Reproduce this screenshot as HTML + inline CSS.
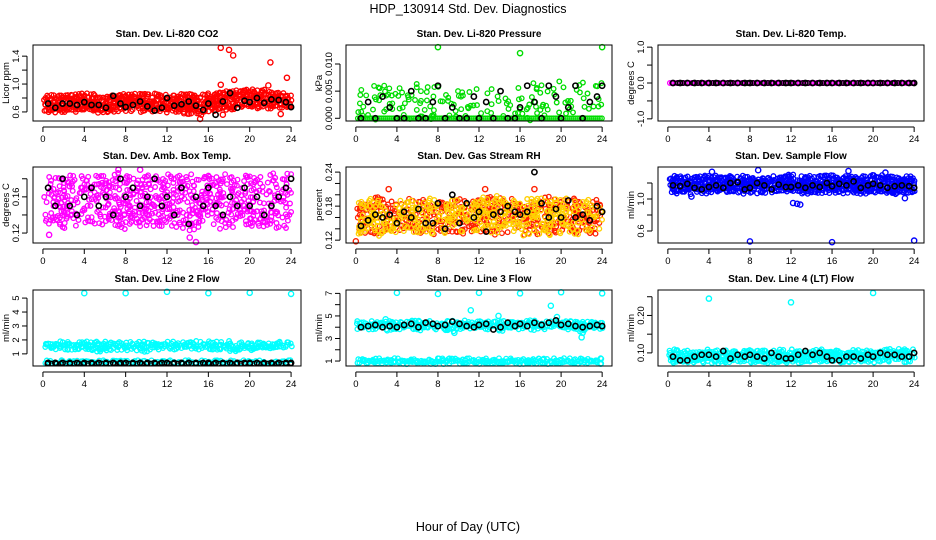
<!DOCTYPE html>
<html><head><meta charset="utf-8"><style>
html,body{margin:0;padding:0;background:#fff;}
svg{display:block;font-family:"Liberation Sans",sans-serif;}
</style></head><body>
<svg id="chart" width="936" height="540" viewBox="0 0 936 540">
<text x="468" y="13" text-anchor="middle" font-size="12.5">HDP_130914  Std. Dev. Diagnostics</text>
<text x="468" y="531" text-anchor="middle" font-size="12.5">Hour of Day (UTC)</text>
</svg>
<script>
// shared
const hours = [0,1,2,3,4,5,6,7,8,9,10,11,12,13,14,15,16,17,18,19,20,21,22,23,24];
const blackX = [0.5,1.2,1.9,2.6,3.3,4.0,4.7,5.4,6.1,6.8,7.5,8.0,8.7,9.4,10.1,10.8,11.5,12.0,12.7,13.4,14.1,14.8,15.5,16.0,16.7,17.4,18.1,18.8,19.5,20.0,20.7,21.4,22.1,22.8,23.5,24.0];
const xTicks = [0,4,8,12,16,20,24];
// P1 CO2
const co2Lo = [0.6,0.6,0.6,0.61,0.6,0.6,0.59,0.6,0.6,0.6,0.6,0.6,0.6,0.6,0.58,0.56,0.6,0.62,0.64,0.65,0.66,0.66,0.66,0.66,0.66];
const co2Hi = [0.82,0.82,0.82,0.83,0.85,0.83,0.82,0.84,0.85,0.84,0.84,0.84,0.83,0.83,0.84,0.82,0.84,0.88,0.9,0.9,0.9,0.92,0.88,0.86,0.84];
const co2OutX = [17.2,18.0,18.4,22.0,23.6,18.5,17.2,21.8,15.2,23.0,17.4];
const co2OutY = [1.52,1.49,1.41,1.31,1.09,1.06,0.99,0.98,0.5,0.57,0.56];
const co2Black = [0.72,0.66,0.72,0.72,0.70,0.74,0.70,0.70,0.66,0.83,0.72,0.67,0.70,0.75,0.68,0.62,0.66,0.80,0.69,0.71,0.75,0.69,0.63,0.72,0.56,0.75,0.87,0.66,0.76,0.74,0.80,0.73,0.78,0.77,0.74,0.67];
// P2 pressure
const presLo = [0,0,0,0,0,0,0,0,0,0,0,0,0,0,0,0,0,0,0,0,0,0,0,0,0];
const presHi = [0.005,0.005,0.006,0.006,0.006,0.006,0.006,0.006,0.006,0.005,0.005,0.005,0.006,0.005,0.005,0.006,0.006,0.006,0.007,0.007,0.007,0.007,0.006,0.007,0.007];
const presOutX = [8,16,24];
const presOutY = [0.0131,0.012,0.0131];
const presBlack = [0,0.003,0,0.004,0.002,0,0,0.005,0,0,0.003,0.006,0,0.002,0,0,0.004,0,0.003,0,0.005,0,0,0.002,0.006,0.003,0,0.006,0.004,0,0.002,0.006,0,0.003,0.004,0.006];
// P3 temp
const tempLo = [0,0,0,0,0,0,0,0,0,0,0,0,0,0,0,0,0,0,0,0,0,0,0,0,0];
const tempHi = [0,0,0,0,0,0,0,0,0,0,0,0,0,0,0,0,0,0,0,0,0,0,0,0,0];
const tempBlack = [0,0,0,0,0,0,0,0,0,0,0,0,0,0,0,0,0,0,0,0,0,0,0,0,0,0,0,0,0,0,0,0,0,0,0,0];
// P4 amb box temp
const ambLo = [0.13,0.125,0.125,0.13,0.125,0.125,0.13,0.125,0.125,0.13,0.125,0.125,0.13,0.125,0.12,0.125,0.13,0.125,0.125,0.13,0.125,0.125,0.13,0.125,0.13];
const ambHi = [0.18,0.185,0.18,0.185,0.18,0.185,0.18,0.185,0.185,0.18,0.185,0.18,0.185,0.18,0.185,0.18,0.185,0.18,0.185,0.18,0.185,0.18,0.185,0.18,0.185];
const ambOutX = [14.8,14.2,9.4,7.3,0.6];
const ambOutY = [0.11,0.115,0.19,0.19,0.118];
const ambBlack = [0.17,0.15,0.18,0.15,0.14,0.16,0.17,0.15,0.16,0.14,0.18,0.16,0.17,0.15,0.16,0.18,0.15,0.16,0.14,0.17,0.13,0.16,0.15,0.17,0.15,0.14,0.16,0.15,0.17,0.15,0.16,0.14,0.15,0.16,0.17,0.18];
// P5 gas RH
const rhLo = [0.13,0.13,0.13,0.13,0.13,0.135,0.13,0.13,0.13,0.135,0.13,0.13,0.135,0.13,0.13,0.135,0.13,0.13,0.135,0.13,0.13,0.13,0.135,0.13,0.135];
const rhHi = [0.18,0.19,0.195,0.185,0.185,0.19,0.185,0.19,0.19,0.185,0.19,0.185,0.19,0.195,0.195,0.19,0.185,0.19,0.19,0.195,0.19,0.19,0.19,0.19,0.185];
const rhOutX = [0,3.2,12.6,17.4];
const rhOutY = [0.118,0.21,0.21,0.21];
const rhBlack = [0.145,0.155,0.165,0.16,0.165,0.15,0.17,0.16,0.175,0.15,0.15,0.185,0.14,0.20,0.15,0.185,0.16,0.17,0.135,0.165,0.17,0.18,0.17,0.165,0.17,0.24,0.185,0.16,0.175,0.16,0.19,0.16,0.165,0.155,0.18,0.17];
// P6 sample flow
const sfLo = [1.08,1.08,1.07,1.08,1.08,1.08,1.07,1.08,1.08,1.08,1.08,1.08,1.07,1.08,1.08,1.07,1.08,1.08,1.08,1.08,1.08,1.08,1.08,1.08,1.08];
const sfHi = [1.27,1.27,1.26,1.27,1.28,1.27,1.28,1.27,1.27,1.28,1.27,1.28,1.29,1.27,1.27,1.27,1.28,1.27,1.27,1.27,1.28,1.28,1.27,1.27,1.27];
const sfOutX = [8,16,24,12.2,12.6,12.9,2.3,17.6,21.2,4.3,23.1,8.8];
const sfOutY = [0.47,0.46,0.48,0.95,0.94,0.93,1.03,1.35,1.33,1.34,1.01,1.36];
const sfBlack = [1.17,1.16,1.19,1.14,1.12,1.15,1.17,1.14,1.20,1.21,1.12,1.14,1.20,1.17,1.12,1.18,1.15,1.15,1.17,1.14,1.17,1.15,1.20,1.16,1.19,1.17,1.22,1.14,1.17,1.19,1.17,1.14,1.16,1.17,1.16,1.14];
// P7 line 2
const l2Lo = [1.3,1.25,1.3,1.25,1.3,1.2,1.2,1.25,1.3,1.25,1.25,1.3,1.3,1.25,1.3,1.25,1.3,1.3,1.25,1.2,1.3,1.25,1.3,1.4,1.5];
const l2Hi = [1.6,1.75,1.8,1.75,1.8,1.75,1.8,1.75,1.7,1.8,1.8,1.75,1.8,1.75,1.8,1.8,1.8,1.75,1.8,1.75,1.7,1.7,1.8,1.8,1.75];
const l2Lo2 = [0.3,0.3,0.3,0.3,0.3,0.3,0.3,0.3,0.3,0.3,0.3,0.3,0.3,0.3,0.3,0.3,0.3,0.3,0.3,0.3,0.3,0.3,0.3,0.3,0.3];
const l2Hi2 = [0.42,0.42,0.42,0.42,0.42,0.42,0.42,0.42,0.42,0.42,0.42,0.42,0.42,0.42,0.42,0.42,0.42,0.42,0.42,0.42,0.42,0.42,0.42,0.42,0.42];
const l2OutX = [4,8,12,16,20,24];
const l2OutY = [5.35,5.35,5.45,5.35,5.38,5.3];
const l2Black = [0.35,0.35,0.35,0.35,0.35,0.35,0.35,0.35,0.35,0.35,0.35,0.35,0.35,0.35,0.35,0.35,0.35,0.35,0.35,0.35,0.35,0.35,0.35,0.35,0.35,0.35,0.35,0.35,0.35,0.35,0.35,0.35,0.35,0.35,0.35,0.35];
// P8 line 3
const l3Lo = [3.8,3.8,3.8,3.8,3.8,3.8,3.8,3.8,3.8,3.7,3.8,3.8,3.8,3.8,3.8,3.8,3.8,3.8,3.8,3.8,3.8,3.8,3.7,3.8,3.8];
const l3Hi = [4.4,4.4,4.4,4.5,4.4,4.4,4.5,4.4,4.4,4.4,4.5,4.4,4.4,4.4,4.5,4.4,4.4,4.5,4.4,4.4,4.4,4.4,4.4,4.4,4.4];
const l3Lo2 = [0.85,0.85,0.85,0.85,0.85,0.85,0.85,0.85,0.85,0.85,0.85,0.85,0.85,0.85,0.85,0.85,0.85,0.85,0.85,0.85,0.85,0.85,0.85,0.85,0.85];
const l3Hi2 = [1.1,1.1,1.1,1.1,1.1,1.1,1.1,1.1,1.1,1.1,1.1,1.1,1.1,1.1,1.1,1.1,1.1,1.1,1.1,1.1,1.1,1.1,1.1,1.1,1.1];
const l3OutX = [4,8,12,16,20,24,11.2,19,19.6,22,22.1,9.6,13.9,2.9];
const l3OutY = [7.05,6.95,7.05,7.0,7.1,7.0,5.5,5.9,4.9,3.1,3.5,3.5,5.0,4.7];
const l3Black = [4.0,4.1,4.2,4.0,4.1,4.0,4.2,4.3,4.0,4.4,4.3,4.1,4.2,4.5,4.3,4.1,4.0,4.2,4.3,3.8,4.0,4.4,4.1,4.3,4.1,4.4,4.2,4.4,4.6,4.2,4.3,4.1,4.0,4.1,4.2,4.1];
// P9 line 4
const l4Lo = [0.075,0.075,0.075,0.075,0.075,0.075,0.075,0.075,0.075,0.075,0.075,0.075,0.075,0.075,0.075,0.075,0.075,0.075,0.075,0.075,0.075,0.075,0.075,0.075,0.075];
const l4Hi = [0.105,0.105,0.102,0.104,0.105,0.103,0.104,0.105,0.104,0.103,0.105,0.104,0.105,0.103,0.104,0.105,0.106,0.104,0.105,0.106,0.105,0.106,0.107,0.106,0.105];
const l4OutX = [4,12,20];
const l4OutY = [0.245,0.235,0.26];
const l4Black = [0.09,0.08,0.08,0.09,0.095,0.095,0.09,0.105,0.085,0.095,0.09,0.095,0.09,0.085,0.10,0.09,0.085,0.085,0.095,0.105,0.095,0.10,0.09,0.08,0.08,0.09,0.09,0.085,0.095,0.09,0.10,0.095,0.095,0.09,0.09,0.10];

const NS = 'http://www.w3.org/2000/svg';
const svg = document.getElementById('chart');
function mk(tag, attrs, parent){ const e=document.createElementNS(NS,tag); for(const k in attrs) e.setAttribute(k,attrs[k]); (parent||svg).appendChild(e); return e; }

const cols=[[33,301],[346,612],[658,924]];
const rows=[[45,121],[167,243],[290,366]];

// cloud: [lo, hi, color, stepX, stepY, keepFraction, seed]
const panels=[
 {key:'co2',c:0,r:0,title:'Stan. Dev. Li-820 CO2',ylab:'Licor ppm',ymin:0.47,ymax:1.56,ticks:[0.6,0.8,1.0,1.2,1.4],labs:[0.6,1.0,1.4],fmt:1,clouds:[[co2Lo,co2Hi,'#ff0000',2,2.5,0.8,1]],ox:co2OutX,oy:co2OutY,blk:co2Black},
 {key:'pressure',c:1,r:0,title:'Stan. Dev. Li-820 Pressure',ylab:'kPa',ymin:-0.0005,ymax:0.0135,ticks:[0,0.005,0.01],labs:[0,0.005,0.01],fmt:3,clouds:[[presLo,presHi,'#00dd00',3,4,0.22,2],[presLo,presLo,'#00dd00',2,3,1,3]],ox:presOutX,oy:presOutY,blk:presBlack},
 {key:'temp',c:2,r:0,title:'Stan. Dev. Li-820 Temp.',ylab:'degrees C',ymin:-1.06,ymax:1.06,ticks:[-1,-0.5,0,0.5,1],labs:[-1,0,1],fmt:1,clouds:[[tempLo,tempHi,'#ff00ff',2,3,1,4],[tempLo,tempHi,'#000000',5,3,1,5]],ox:[],oy:[],blk:tempBlack},
 {key:'amb-temp',c:0,r:1,title:'Stan. Dev. Amb. Box Temp.',ylab:'degrees C',ymin:0.109,ymax:0.193,ticks:[0.12,0.14,0.16,0.18],labs:[0.12,0.16],fmt:2,clouds:[[ambLo,ambHi,'#ff00ff',2.5,3.5,0.45,6]],ox:ambOutX,oy:ambOutY,blk:ambBlack},
 {key:'gas-rh',c:1,r:1,title:'Stan. Dev. Gas Stream RH',ylab:'percent',ymin:0.115,ymax:0.249,ticks:[0.12,0.14,0.16,0.18,0.2,0.22,0.24],labs:[0.12,0.18,0.24],fmt:2,clouds:[[rhLo,rhHi,'#ff2000',2.5,3.5,0.5,7],[rhLo,rhHi,'#ffd000',2.5,3.5,0.45,8]],ox:rhOutX,oy:rhOutY,blk:rhBlack},
 {key:'sample-flow',c:2,r:1,title:'Stan. Dev. Sample Flow',ylab:'ml/min',ymin:0.45,ymax:1.4,ticks:[0.6,0.8,1.0,1.2],labs:[0.6,1.0],fmt:1,clouds:[[sfLo,sfHi,'#0000ff',2,2.5,0.8,9]],ox:sfOutX,oy:sfOutY,blk:sfBlack},
 {key:'line2-flow',c:0,r:2,title:'Stan. Dev. Line 2 Flow',ylab:'ml/min',ymin:0.13,ymax:5.58,ticks:[1,2,3,4,5],labs:[1,2,3,4,5],fmt:0,clouds:[[l2Lo,l2Hi,'#00ffff',2,2.5,0.8,10],[l2Lo2,l2Hi2,'#00ffff',2,2.5,1,11],[l2Lo2,l2Lo2,'#000000',4.5,3,1,12]],ox:l2OutX,oy:l2OutY,blk:l2Black},
 {key:'line3-flow',c:1,r:2,title:'Stan. Dev. Line 3 Flow',ylab:'ml/min',ymin:0.56,ymax:7.3,ticks:[1,2,3,4,5,6,7],labs:[1,3,5,7],fmt:0,clouds:[[l3Lo,l3Hi,'#00ffff',2,2.5,0.8,13],[l3Lo2,l3Hi2,'#00ffff',2,2.5,1,14]],ox:l3OutX,oy:l3OutY,blk:l3Black},
 {key:'line4-flow',c:2,r:2,title:'Stan. Dev. Line 4 (LT) Flow',ylab:'ml/min',ymin:0.065,ymax:0.268,ticks:[0.1,0.15,0.2,0.25],labs:[0.1,0.2],fmt:2,clouds:[[l4Lo,l4Hi,'#00ffff',2,2.5,0.8,15]],ox:l4OutX,oy:l4OutY,blk:l4Black}
];

function interp(arr,h){ const i=Math.min(23,Math.floor(h)); const f=h-i; return arr[i]*(1-f)+arr[i+1]*f; }
function tex(i){ const x=Math.sin(i*12.9898+78.233)*43758.5453; return x-Math.floor(x); } // rendering texture only
function ringPath(pts,r){ let d=''; for(const [x,y] of pts){ d+='M'+(x-r).toFixed(1)+','+y.toFixed(1)+'a'+r+','+r+' 0 1,0 '+(2*r)+',0a'+r+','+r+' 0 1,0 '+(-2*r)+',0'; } return d; }

panels.forEach(p=>{
  const [L,R]=cols[p.c], [T,B]=rows[p.r];
  const xs=h=>L+(h+0.96)/25.92*(R-L);
  const ys=v=>B-(v-p.ymin)/(p.ymax-p.ymin)*(B-T);
  const g=mk('g',{});
  
  
  const t=mk('text',{x:(L+R)/2,y:T-8,'text-anchor':'middle','font-size':10,'font-weight':'bold'},g);
  t.textContent=p.title;
  
  
  p.clouds.forEach(cl=>{
    const [lo,hi,col,sx,sy,keep,seed]=cl; const pts=[]; let k=seed*10007;
    for(let px=xs(0); px<=xs(24); px+=sx){
      const h=(px-L)/(R-L)*25.92-0.96; if(h<0||h>24) continue;
      const y1=ys(interp(hi,h)), y0=ys(interp(lo,h));
      if(y0-y1<1){ pts.push([px,y0]); continue; }
      for(let py=y1; py<=y0+0.01; py+=sy){
        k++;
        if(tex(k)>keep) continue;
        const jx=(tex(k+0.31)-0.5)*sx, jy=(tex(k+0.73)-0.5)*sy*1.4;
        pts.push([px+jx, Math.min(y0+2,Math.max(y1-2,py+jy))]);
      }
    }
    const path=mk('path',{d:ringPath(pts,2.3),fill:'none',stroke:col,'stroke-width':1.3},g);
    
    
  });
  p.ox.forEach((x,i)=>{
    const c=mk('circle',{cx:xs(x),cy:ys(p.oy[i]),r:2.6,fill:'none',stroke:p.clouds[0][2],'stroke-width':1.4},g);
    
    
  });
  p.blk.forEach((v,i)=>{
    const c=mk('circle',{cx:xs(blackX[i]),cy:ys(v),r:2.6,fill:'none',stroke:'#000','stroke-width':1.6},g);
    
    
  });
  const box=mk('rect',{x:L,y:T,width:R-L,height:B-T,fill:'none',stroke:'#000','stroke-width':1},g);
  
  
  mk('line',{x1:xs(0),x2:xs(24),y1:B+6,y2:B+6,stroke:'#000'},g);
  xTicks.forEach(h=>{
    mk('line',{x1:xs(h),x2:xs(h),y1:B+6,y2:B+11,stroke:'#000'},g);
    const tl=mk('text',{x:xs(h),y:B+21,'text-anchor':'middle','font-size':9.5},g);
    tl.textContent=h;
    
    
  });
  mk('line',{x1:L-6,x2:L-6,y1:ys(p.ticks[0]),y2:ys(p.ticks[p.ticks.length-1]),stroke:'#000'},g);
  p.ticks.forEach(v=>mk('line',{x1:L-11,x2:L-6,y1:ys(v),y2:ys(v),stroke:'#000'},g));
  p.labs.forEach(v=>{
    const yy=ys(v);
    const tl=mk('text',{x:L-14,y:yy,'text-anchor':'middle','font-size':9.5,transform:'rotate(-90 '+(L-14)+' '+yy+')'},g);
    tl.textContent=v.toFixed(p.fmt);
    
    
  });
  const yt=mk('text',{x:L-24,y:(T+B)/2,'text-anchor':'middle','font-size':9.5,transform:'rotate(-90 '+(L-24)+' '+(T+B)/2+')'},g);
  yt.textContent=p.ylab;
  
  
});
</script>
</body></html>
